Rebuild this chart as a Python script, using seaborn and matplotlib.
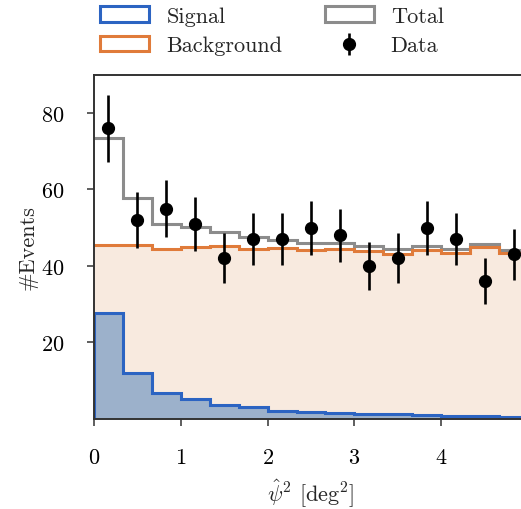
import numpy as np
import pandas as pd
import matplotlib
matplotlib.use("Agg")
import matplotlib.pyplot as plt
from matplotlib.patches import Patch
import seaborn as sns

# bin edges in psi^2 [deg^2]
bin_edges = [0.0, 1/3, 2/3, 1.0, 4/3, 5/3, 2.0, 7/3, 8/3, 3.0, 10/3, 11/3, 4.0, 13/3, 14/3, 5.0]

# expected signal / background per bin, observed counts
signal = [27.8, 12.1, 6.7, 5.2, 3.7, 3.0, 2.0, 1.9, 1.6, 1.35, 1.3, 1.1, 0.8, 0.75, 0.55]
background = [45.6, 45.6, 44.3, 45.0, 45.2, 44.5, 44.8, 44.2, 44.5, 43.9, 43.2, 44.2, 43.5, 44.9, 43.5]
data = [76, 52, 55, 51, 42, 47, 47, 50, 48, 40, 42, 50, 47, 36, 43]

# colours
c_sig = "#2c64c2"
c_sig_fill = "#9cb1cb"
c_bkg = "#e07b3a"
c_bkg_fill = "#f8eadf"
c_tot = "#8c8c8c"

sns.set_style("ticks")
plt.rcParams["font.family"] = ["cmr10", "DejaVu Serif"]
plt.rcParams["mathtext.fontset"] = "cm"
plt.rcParams["axes.formatter.use_mathtext"] = True
plt.rcParams["font.size"] = 16

edges = np.array(bin_edges)
centers = 0.5 * (edges[:-1] + edges[1:])
df = pd.DataFrame({"x": centers, "sig": signal, "bkg": background, "obs": data})
df["total"] = df["sig"] + df["bkg"]

fig = plt.figure(figsize=(5.21, 5.10), dpi=100)
ax = fig.add_axes([94/521, 1 - 419.8/510, 434/521, 344/510])

# filled areas
sns.histplot(data=df, x="x", weights="bkg", bins=bin_edges, element="step", fill=True,
             color=c_bkg_fill, alpha=1, linewidth=0, ax=ax)
sns.histplot(data=df, x="x", weights="sig", bins=bin_edges, element="step", fill=True,
             color=c_sig_fill, alpha=1, linewidth=0, ax=ax)

# outlines
ax.stairs(df["total"], edges, color=c_tot, lw=2.2, baseline=None)
ax.stairs(df["bkg"], edges, color=c_bkg, lw=2.2, baseline=None)
ax.stairs(df["sig"], edges, color=c_sig, lw=2.2)

# data with poisson errors
ax.errorbar(df["x"], df["obs"], yerr=np.sqrt(df["obs"]), fmt="o", color="black",
            markersize=8.5, elinewidth=1.9, capsize=0)

ax.set_xlim(0, 5)
ax.set_ylim(0, 90)
ax.set_xticks([0, 1, 2, 3, 4])
ax.set_yticks([20, 40, 60, 80])
ax.set_xlabel(r"$\hat{\psi}^2$ [deg$^2$]", fontsize=16, labelpad=6)
ax.set_ylabel("#Events", fontsize=16, labelpad=3)
ax.tick_params(direction="out", length=5, width=1.1, labelsize=16, colors="#333333", labelcolor="black")
ax.tick_params(axis="x", pad=16)
ax.tick_params(axis="y", pad=16)
for s in ax.spines.values():
    s.set_visible(True)
    s.set_linewidth(1.4)
    s.set_color("#333333")

data_handle = ax.errorbar([], [], yerr=[], fmt="o", color="black", markersize=8.5, elinewidth=1.9)
handles = [
    Patch(facecolor="white", edgecolor=c_sig, lw=2.2),
    Patch(facecolor="white", edgecolor=c_bkg, lw=2.2),
    Patch(facecolor="white", edgecolor=c_tot, lw=2.2),
    data_handle,
]
labels = ["Signal", "Background", "Total", "Data"]
fig.legend(handles, labels, ncol=2, loc="upper left", bbox_to_anchor=(87/521, 1 + 6/510),
           frameon=False, handlelength=2.2, handletextpad=0.77, columnspacing=1.9,
           labelspacing=0.45, fontsize=16, borderpad=0.1)

fig.savefig("out.png", dpi=100)
